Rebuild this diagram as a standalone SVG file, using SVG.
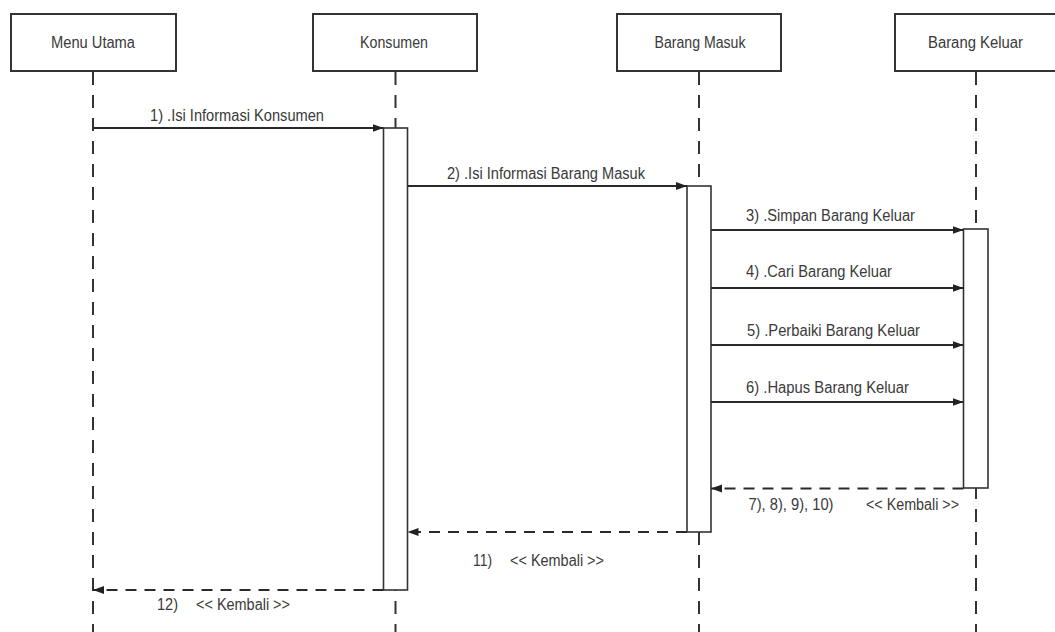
<svg xmlns="http://www.w3.org/2000/svg" width="1055" height="632" viewBox="0 0 1055 632">
  <style>
    .box { fill: #ffffff; stroke: #333333; stroke-width: 2; }
    .life { stroke: #333333; stroke-width: 2; stroke-dasharray: 13 10; fill: none; }
    .act { fill: #ffffff; stroke: #333333; stroke-width: 1.6; }
    .msg { stroke: #2a2a2a; stroke-width: 1.8; fill: none; }
    .ret { stroke: #2a2a2a; stroke-width: 1.8; fill: none; stroke-dasharray: 11 8; }
    text { font-family: "Liberation Sans", Arial, sans-serif; font-size: 16px; fill: #3a3a3a; }
    .c { text-anchor: middle; }
  </style>
  <defs>
    <marker id="arrow" markerUnits="userSpaceOnUse" markerWidth="12" markerHeight="10" refX="11" refY="5" orient="auto">
      <path d="M0,1 L11,5 L0,9 Z" fill="#222222"/>
    </marker>
  </defs>
  <rect width="1055" height="632" fill="#ffffff"/>

  <!-- lifelines -->
  <g id="lifelines">
    <line class="life" x1="93" y1="72" x2="93" y2="632"/>
    <line class="life" x1="395.5" y1="72" x2="395.5" y2="632"/>
    <line class="life" x1="699" y1="72" x2="699" y2="632"/>
    <line class="life" x1="976" y1="72" x2="976" y2="632"/>
  </g>

  <!-- participants -->
  <g id="menu-utama">
    <rect class="box" x="11" y="14" width="165" height="57"/>
    <text class="c" x="93" y="48" textLength="84" lengthAdjust="spacingAndGlyphs">Menu Utama</text>
  </g>
  <g id="konsumen">
    <rect class="box" x="313" y="14" width="164" height="57"/>
    <rect class="act" x="383.5" y="128" width="24" height="462"/>
    <text class="c" x="394" y="48" textLength="68" lengthAdjust="spacingAndGlyphs">Konsumen</text>
  </g>
  <g id="barang-masuk">
    <rect class="box" x="617" y="14" width="164" height="57"/>
    <rect class="act" x="687" y="186" width="24" height="346"/>
    <text class="c" x="700" y="48" textLength="91" lengthAdjust="spacingAndGlyphs">Barang Masuk</text>
  </g>
  <g id="barang-keluar">
    <rect class="box" x="895" y="14" width="164" height="57"/>
    <rect class="act" x="963.5" y="229" width="24.5" height="259"/>
    <text class="c" x="975.5" y="48" textLength="95" lengthAdjust="spacingAndGlyphs">Barang Keluar</text>
  </g>

  <!-- messages -->
  <g id="connectors">
    <line class="msg" x1="93" y1="128" x2="383.5" y2="128" marker-end="url(#arrow)"/>
    <line class="msg" x1="407.5" y1="186" x2="687" y2="186" marker-end="url(#arrow)"/>
    <line class="msg" x1="711" y1="230" x2="963.5" y2="230" marker-end="url(#arrow)"/>
    <line class="msg" x1="711" y1="288" x2="963.5" y2="288" marker-end="url(#arrow)"/>
    <line class="msg" x1="711" y1="345" x2="963.5" y2="345" marker-end="url(#arrow)"/>
    <line class="msg" x1="711" y1="402" x2="963.5" y2="402" marker-end="url(#arrow)"/>
    <line class="ret" x1="963.5" y1="488.5" x2="711" y2="488.5" marker-end="url(#arrow)"/>
    <line class="ret" x1="687" y1="532" x2="407.5" y2="532" marker-end="url(#arrow)"/>
    <line class="ret" x1="383.5" y1="590" x2="93" y2="590" marker-end="url(#arrow)"/>
  </g>

  <!-- message labels -->
  <g id="labels">
    <text x="150" y="121" textLength="174" lengthAdjust="spacingAndGlyphs">1) .Isi Informasi Konsumen</text>
    <text x="447" y="179" textLength="198" lengthAdjust="spacingAndGlyphs">2) .Isi Informasi Barang Masuk</text>
    <text x="746" y="221" textLength="169" lengthAdjust="spacingAndGlyphs">3) .Simpan Barang Keluar</text>
    <text x="746" y="277" textLength="146" lengthAdjust="spacingAndGlyphs">4) .Cari Barang Keluar</text>
    <text x="747" y="336" textLength="173" lengthAdjust="spacingAndGlyphs">5) .Perbaiki Barang Keluar</text>
    <text x="746" y="393" textLength="163" lengthAdjust="spacingAndGlyphs">6) .Hapus Barang Keluar</text>
    <text x="748.5" y="510" textLength="85" lengthAdjust="spacingAndGlyphs">7), 8), 9), 10)</text>
    <text x="866" y="510" textLength="93" lengthAdjust="spacingAndGlyphs">&lt;&lt; Kembali &gt;&gt;</text>
    <text x="473" y="566" textLength="19" lengthAdjust="spacingAndGlyphs">11)</text>
    <text x="510" y="566" textLength="94" lengthAdjust="spacingAndGlyphs">&lt;&lt; Kembali &gt;&gt;</text>
    <text x="157" y="610" textLength="21" lengthAdjust="spacingAndGlyphs">12)</text>
    <text x="196" y="610" textLength="94" lengthAdjust="spacingAndGlyphs">&lt;&lt; Kembali &gt;&gt;</text>
  </g>
</svg>
